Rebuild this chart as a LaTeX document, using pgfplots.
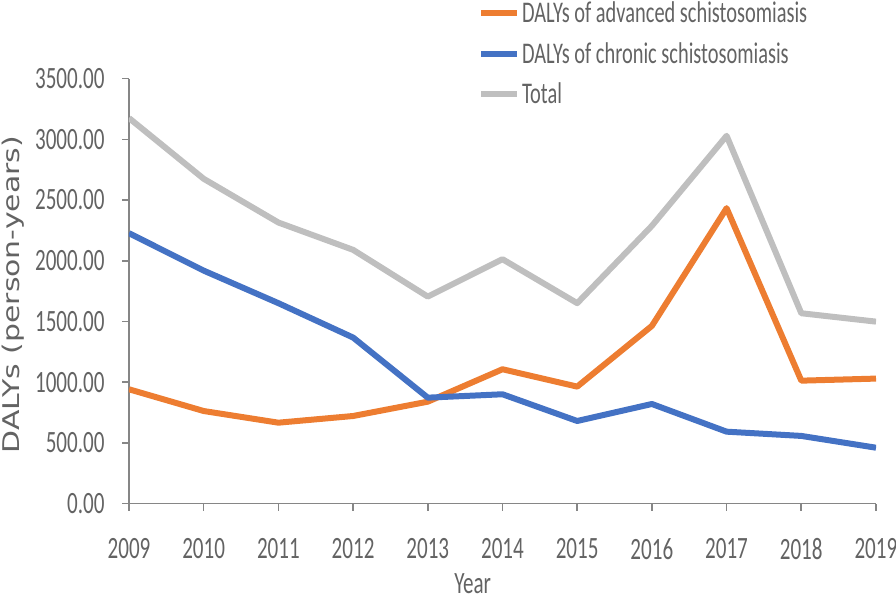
\documentclass[border=0pt]{standalone}
\usepackage{fontspec}
\setmainfont[FakeStretch=0.68]{Carlito}
\newfontfamily\ylabfont[FakeStretch=1.3]{DejaVu Sans}
\usepackage{pgfplots}
\pgfplotsset{compat=1.18}

\definecolor{advorange}{HTML}{ED7D31}
\definecolor{chrblue}{HTML}{4472C4}
\definecolor{totgray}{HTML}{BFBFBF}
\definecolor{axgray}{HTML}{868686}
\definecolor{txtgray}{HTML}{636363}

\begin{document}
\begin{tikzpicture}
\begin{axis}[
    name=ax,
    scale only axis,
    width=747pt, height=425.1pt,
    xmin=2009, xmax=2019,
    ymin=0, ymax=3500,
    xtick={2009,...,2019},
    ytick distance=500,
    axis lines*=left,
    axis line style={axgray, line width=1.5pt},
    tick style={axgray, line width=1.5pt},
    tick align=outside,
    major tick length=7pt,
    /pgf/number format/assume math mode=true,
    ticklabel style={font=\fontsize{31}{37}\selectfont, text=txtgray},
    xticklabel style={/pgf/number format/1000 sep={}, yshift=-24pt},
    yticklabel style={/pgf/number format/.cd, fixed, fixed zerofill, precision=2, 1000 sep={}, /tikz/xshift=-14pt},
    xlabel={Year},
    xlabel style={font=\fontsize{31}{37}\selectfont, text=txtgray, at={(axis description cs:0.46,0)}, anchor=base, yshift=-90pt, inner sep=0pt},
    ylabel={DALYs (person-years)},
    ylabel style={font=\ylabfont\fontsize{23}{28}\selectfont, text=txtgray, at={(axis description cs:-0.1553,0.492)}, anchor=center},
    legend cell align=left,
    legend image code/.code={\draw[#1] (0pt,0pt) -- (36pt,0pt);},
    legend style={at={(axis description cs:0.467,1.185)}, anchor=north west,
        draw=none, fill=none, font=\fontsize{30}{36}\selectfont, text=txtgray,
        inner sep=0pt, row sep=14pt, nodes={inner xsep=2pt, inner ysep=2pt}},
    every axis plot/.append style={line width=6pt, line join=round},
]

\addplot[color=advorange] coordinates {
    (2009,942)(2010,763)(2011,667)(2012,722)(2013,840)(2014,1107)(2015,964)(2016,1464)(2017,2433)(2018,1013)(2019,1030)
};
\addlegendentry{DALYs of advanced schistosomiasis}
\addplot[color=chrblue] coordinates {
    (2009,2227)(2010,1919)(2011,1651)(2012,1368)(2013,873)(2014,901)(2015,681)(2016,821)(2017,593)(2018,558)(2019,461)
};
\addlegendentry{DALYs of chronic schistosomiasis}
\addplot[color=totgray] coordinates {
    (2009,3175)(2010,2675)(2011,2315)(2012,2090)(2013,1705)(2014,2013)(2015,1651)(2016,2288)(2017,3029)(2018,1568)(2019,1499)
};
\addlegendentry{Total}

\end{axis}
\pgfresetboundingbox
\path[use as bounding box] ([xshift=-129pt,yshift=-97.3pt]ax.south west) rectangle ([xshift=20pt,yshift=78.6pt]ax.north east);
\end{tikzpicture}
\end{document}
